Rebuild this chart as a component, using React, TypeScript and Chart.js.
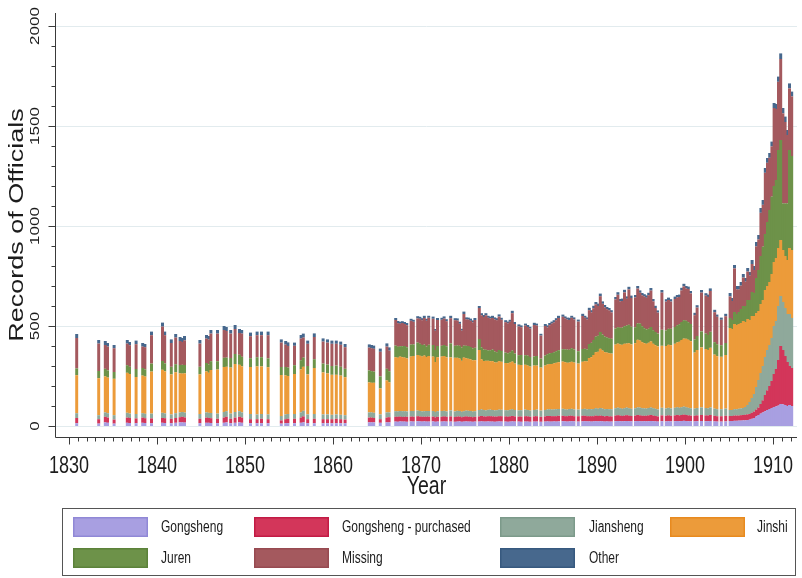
import React, { useEffect, useRef } from "react";
import { Chart, registerables } from "chart.js";

Chart.register(...registerables);

// Edition (quarter start, decimal year) of each "Jinshen lu" record
const periods = [
  1830.75, 1833.25, 1834, 1834.25, 1835, 1836.5, 1836.75, 1837.5, 1838.25, 1838.5,
  1839.25, 1840.5, 1840.75, 1841.5, 1842, 1842.5, 1842.75, 1843, 1844.75, 1845.5,
  1845.75, 1846, 1846.75, 1847.5, 1847.75, 1848.25, 1848.75, 1849.25, 1849.5, 1850.5,
  1851.25, 1851.75, 1852.5, 1854, 1854.5, 1854.75, 1855.5, 1856.25, 1856.5, 1857,
  1857.75, 1858.75, 1859.25, 1859.75, 1860.25, 1860.75, 1861.25, 1864, 1864.25, 1864.5,
  1865.25, 1866, 1866.25,
  1867, 1867.25, 1867.5, 1867.75, 1868, 1868.25, 1868.75, 1869, 1869.5, 1869.75,
  1870, 1870.25, 1870.5, 1870.75, 1871.25, 1871.5, 1871.75, 1872.25, 1872.5, 1872.75,
  1873.25, 1873.75, 1874, 1874.25, 1874.5, 1874.75, 1875, 1875.25, 1875.5, 1875.75, 1876,
  1876.5, 1876.75, 1877, 1877.25, 1877.5, 1877.75, 1878, 1878.25, 1878.5, 1878.75,
  1879, 1879.5, 1879.75, 1880, 1880.25, 1880.5, 1881, 1881.25, 1881.75, 1882,
  1882.25, 1882.75, 1883, 1883.5, 1884, 1884.25, 1884.5, 1884.75, 1885, 1885.25,
  1885.5, 1886, 1886.25, 1886.5, 1886.75, 1887, 1887.25, 1887.75, 1888.25, 1888.5, 1888.75,
  1889, 1889.25, 1889.5, 1889.75, 1890, 1890.25, 1890.5, 1890.75, 1891, 1891.25, 1891.5,
  1892, 1892.25, 1892.5, 1892.75, 1893, 1893.25, 1893.5, 1893.75, 1894.25, 1894.5, 1894.75,
  1895, 1895.25, 1895.5, 1895.75, 1896, 1896.25, 1896.5, 1896.75, 1897.25, 1897.75, 1898, 1898.25,
  1898.75, 1899, 1899.25, 1899.5, 1899.75, 1900, 1900.25, 1900.5,
  1901, 1901.25, 1901.75, 1902.25, 1902.5, 1902.75, 1903.25, 1903.5, 1904, 1904.5,
  1905, 1905.25, 1905.5, 1905.75, 1906, 1906.25, 1906.5, 1906.75, 1907, 1907.25, 1907.5, 1907.75,
  1908, 1908.25, 1908.5, 1908.75, 1909, 1909.25, 1909.5, 1909.75, 1910, 1910.25, 1910.5, 1910.75,
  1911, 1911.25, 1911.5, 1911.75, 1912,
];

const gongsheng = [
  14, 12, 18, 16, 12, 16, 15, 14, 16, 15, 14, 16, 15, 14, 16, 18, 18, 17, 14, 16,
  16, 15, 14, 16, 18, 14, 16, 18, 16, 14, 14, 14, 14, 12, 14, 14, 14, 16, 18, 14,
  14, 14, 14, 14, 14, 14, 14, 18, 18, 18, 16, 18, 18,
  22, 21, 23, 22, 22, 21, 23, 22, 24, 23, 22, 23, 22, 22, 23, 21, 22, 22, 23, 22,
  22, 21, 22, 23, 21, 22, 23, 22, 22, 21, 22,
  22, 23, 22, 22, 23, 22, 22, 21, 22, 23, 22, 22, 21, 22, 23, 22, 22, 21, 22, 22,
  21, 22, 22, 21, 22, 23, 22, 22, 23, 22, 23, 24, 23, 22, 23, 24, 23, 22, 23, 24, 23,
  23, 22, 23, 24, 23, 24, 23, 22, 23, 22, 22, 24, 25, 24, 23, 24, 25, 24, 23, 24, 25, 24,
  23, 24, 23, 24, 25, 24, 23, 22, 24, 23, 24, 23, 24, 25, 24, 25, 26, 25, 24, 24,
  23, 24, 25, 24, 24, 25, 23, 22, 22, 23,
  25, 25, 26, 26, 27, 27, 28, 28, 30, 32, 36, 40, 48, 55, 62, 68, 74, 80, 85, 90, 95, 98, 102, 110,
  108, 105, 100, 105, 100,
];

const purchased = [
  26, 22, 28, 26, 20, 26, 25, 24, 26, 24, 24, 24, 24, 22, 24, 26, 28, 26, 22, 26,
  24, 24, 22, 26, 28, 22, 26, 28, 26, 20, 20, 22, 20, 16, 20, 22, 22, 26, 30, 20,
  22, 20, 20, 20, 22, 20, 18, 24, 24, 22, 18, 24, 26,
  24, 25, 24, 23, 24, 25, 24, 24, 25, 24, 24, 23, 24, 25, 24, 22, 24, 24, 25, 24,
  26, 24, 25, 24, 23, 24, 25, 24, 24, 23, 24,
  26, 27, 26, 25, 26, 27, 26, 26, 25, 26, 27, 26, 25, 26, 27, 26, 25, 26, 27, 26,
  25, 26, 27, 25, 26, 27, 28, 27, 26, 27, 28, 27, 26, 27, 28, 27, 26, 27, 28, 27, 26,
  26, 27, 26, 28, 27, 28, 27, 26, 27, 26, 26, 28, 29, 28, 27, 28, 29, 28, 27, 28, 30, 29,
  28, 27, 28, 29, 30, 28, 27, 26, 29, 28, 29, 28, 29, 30, 29, 30, 31, 30, 29, 28,
  28, 29, 30, 29, 28, 30, 28, 27, 27, 28,
  25, 25, 26, 26, 25, 27, 27, 28, 28, 28, 30, 32, 34, 37, 48, 60, 81, 98, 115, 135, 165, 187, 228, 290,
  272, 245, 220, 195, 190,
];

const jiansheng = [
  24, 20, 22, 22, 22, 24, 22, 22, 22, 22, 24, 26, 24, 22, 24, 24, 24, 24, 24, 26,
  26, 26, 26, 28, 28, 26, 28, 28, 26, 26, 24, 24, 24, 22, 24, 24, 24, 26, 28, 24,
  24, 24, 24, 22, 22, 22, 22, 26, 26, 26, 24, 26, 24,
  28, 27, 28, 29, 28, 27, 28, 29, 28, 28, 27, 28, 29, 28, 28, 27, 28, 29, 28, 27,
  30, 28, 29, 28, 27, 28, 29, 30, 29, 28, 28,
  32, 33, 32, 31, 32, 33, 32, 31, 32, 33, 32, 31, 32, 33, 34, 32, 31, 32, 33, 32,
  31, 32, 33, 31, 32, 33, 34, 33, 34, 35, 34, 35, 34, 33, 34, 35, 34, 33, 34, 35, 34,
  36, 35, 36, 37, 36, 38, 37, 36, 35, 36, 36, 37, 38, 37, 36, 37, 38, 37, 36, 37, 38, 39,
  38, 37, 36, 37, 38, 37, 36, 35, 38, 37, 38, 37, 38, 39, 38, 39, 40, 39, 38, 37,
  36, 37, 38, 37, 36, 38, 36, 35, 35, 36,
  30, 30, 32, 32, 34, 34, 35, 39, 47, 60, 74, 88, 113, 138, 155, 172, 190, 202, 205, 215, 240, 240, 270, 250,
  240, 240, 240, 260, 250,
];

const jinshi = [
  190, 185, 180, 178, 182, 200, 198, 185, 188, 186, 210, 215, 210, 200, 205, 195, 192, 196, 198, 205,
  200, 215, 220, 225, 222, 230, 240, 232, 230, 235, 240, 238, 236, 205, 195, 190, 200, 215, 220, 200,
  230, 210, 205, 200, 198, 196, 190, 150, 148, 150, 130, 160, 150,
  270, 268, 272, 270, 268, 265, 272, 275, 278, 276, 274, 278, 270, 275, 272, 250, 270, 272, 274, 270,
  265, 268, 265, 262, 255, 268, 262, 260, 258, 256, 255,
  300, 250, 245, 248, 245, 242, 244, 240, 238, 242, 240, 236, 235, 236, 238, 232, 228, 226, 224, 222,
  220, 222, 220, 215, 222, 224, 226, 228, 230, 232, 234, 236, 236, 234, 232, 235, 234, 230, 236, 238, 240,
  255, 260, 270, 280, 285, 296, 290, 285, 282, 280, 278, 318, 320, 318, 320, 322, 320, 325, 322, 325, 338, 335,
  330, 326, 324, 326, 330, 322, 318, 315, 310, 312, 315, 316, 320, 324, 330, 336, 340, 342, 340, 335,
  280, 290, 300, 295, 292, 298, 270, 265, 262, 268,
  410, 405, 426, 421, 424, 427, 435, 425, 430, 410, 410, 390, 370, 345, 345, 330, 335, 320, 315, 320, 320, 315, 290, 280,
  260, 260, 270, 330, 340,
];

const juren = [
  34, 36, 38, 36, 34, 38, 36, 40, 38, 36, 40, 44, 40, 38, 40, 42, 44, 42, 38, 42,
  42, 44, 42, 46, 46, 48, 50, 50, 48, 44, 46, 46, 44, 40, 42, 42, 44, 46, 46, 42,
  44, 44, 44, 44, 46, 44, 42, 60, 58, 56, 60, 58, 56,
  58, 55, 52, 55, 58, 56, 60, 58, 62, 60, 58, 55, 52, 56, 58, 60, 56, 54, 55, 56,
  70, 60, 62, 64, 66, 60, 62, 64, 62, 60, 62,
  55, 60, 58, 55, 52, 55, 58, 55, 52, 56, 54, 52, 50, 52, 55, 50, 48, 50, 48, 50,
  48, 46, 48, 45, 50, 52, 54, 55, 56, 58, 60, 62, 64, 66, 64, 68, 66, 62, 64, 62, 60,
  70, 72, 75, 78, 80, 84, 80, 78, 76, 75, 74, 80, 82, 84, 86, 88, 90, 92, 88, 80, 82, 85,
  80, 75, 72, 70, 72, 68, 66, 64, 80, 78, 80, 82, 84, 86, 88, 90, 92, 90, 88, 86,
  65, 70, 80, 78, 75, 80, 62, 60, 58, 60,
  50, 45, 60, 55, 60, 70, 75, 80, 95, 100, 120, 115, 175, 205, 240, 267, 280, 320, 360, 387, 380, 390, 490, 500,
  233, 263, 283, 490, 470,
];

const missing = [
  152, 137, 119, 119, 119, 108, 108, 124, 107, 111, 142, 172, 141, 119, 133, 120, 114, 123, 116, 122,
  124, 138, 138, 139, 133, 122, 125, 109, 116, 110, 110, 110, 116, 122, 112, 108, 97, 108, 100, 111,
  111, 110, 110, 111, 109, 110, 108, 114, 115, 114, 123, 111, 103,
  128, 118, 112, 116, 110, 110, 119, 113, 121, 125, 124, 133, 129, 135, 131, 96, 130, 130, 132, 125,
  126, 128, 124, 110, 85, 158, 132, 132, 131, 130, 139,
  155, 160, 162, 172, 163, 158, 158, 160, 160, 167, 156, 152, 150, 152, 187, 148, 144, 139, 148, 143,
  142, 157, 152, 115, 148, 134, 140, 147, 149, 155, 161, 162, 155, 150, 149, 152, 150, 148, 165, 155, 150,
  169, 152, 159, 161, 149, 179, 154, 146, 141, 139, 132, 146, 162, 132, 133, 169, 134, 177, 144, 149, 174, 154,
  154, 158, 158, 168, 182, 144, 120, 105, 186, 144, 144, 136, 140, 139, 136, 158, 169, 162, 166, 153,
  122, 142, 194, 189, 190, 204, 150, 137, 127, 134,
  108, 95, 218, 123, 113, 117, 142, 122, 142, 122, 140, 115, 158, 153, 216, 209, 306, 296, 261, 251, 390, 355, 341, 405,
  450, 407, 342, 308, 298,
];

const other = [
  20, 18, 20, 18, 16, 18, 16, 18, 18, 16, 18, 20, 18, 18, 18, 20, 20, 22, 18, 18,
  18, 18, 18, 20, 20, 18, 20, 20, 18, 18, 18, 18, 18, 16, 18, 18, 16, 18, 20, 16,
  18, 16, 16, 16, 16, 16, 16, 16, 16, 16, 16, 16, 16,
  10, 11, 10, 9, 10, 11, 10, 10, 11, 10, 10, 11, 10, 10, 11, 9, 10, 10, 11, 10,
  12, 10, 11, 10, 9, 12, 10, 10, 11, 10, 10,
  10, 11, 10, 11, 10, 10, 11, 10, 10, 11, 10, 10, 9, 10, 12, 10, 10, 9, 10, 10,
  9, 11, 10, 9, 10, 10, 11, 10, 11, 10, 11, 11, 10, 10, 11, 10, 10, 10, 11, 10, 10,
  12, 11, 12, 12, 12, 13, 12, 12, 11, 12, 11, 12, 13, 12, 12, 13, 12, 13, 12, 12, 13, 12,
  12, 12, 12, 12, 13, 12, 11, 11, 13, 12, 12, 12, 12, 12, 12, 13, 13, 12, 12, 12,
  12, 12, 13, 12, 12, 13, 12, 11, 11, 12,
  17, 15, 17, 17, 17, 18, 18, 18, 18, 18, 20, 20, 22, 22, 24, 24, 24, 24, 24, 24, 25, 25, 26, 28,
  27, 27, 25, 25, 24,
];

const seriesLabels = ["Gongsheng", "Gongsheng - purchased", "Jiansheng", "Jinshi", "Juren", "Missing", "Other"];
const seriesValues = [gongsheng, purchased, jiansheng, jinshi, juren, missing, other];
const fills = ["#a89fe1", "#d3365a", "#8fa99b", "#ec9b3a", "#6d9249", "#a4595e", "#47688d"];
const edges = ["#9088d6", "#c21b45", "#7c9a8a", "#e88a1f", "#5c823a", "#974a51", "#37597f"];

const yMajorTicks = [0, 500, 1000, 1500, 2000];
const xMajorTicks = [1830, 1840, 1850, 1860, 1870, 1880, 1890, 1900, 1910];

const FONT = '"Liberation Sans", Arial, Helvetica, sans-serif';
const SX = 0.75;

function drawText(
  ctx: CanvasRenderingContext2D,
  s: string,
  x: number,
  y: number,
  size: number,
  rot = 0,
  align: CanvasTextAlign = "center",
  sx = SX
) {
  ctx.save();
  ctx.translate(x, y);
  ctx.scale(sx, 1);
  if (rot) ctx.rotate(rot);
  ctx.font = `${size}px ${FONT}`;
  ctx.textAlign = align;
  ctx.textBaseline = "middle";
  ctx.fillStyle = "#1c1c1c";
  ctx.fillText(s, 0, 0);
  ctx.restore();
}

const decor = {
  id: "decor",
  beforeDatasetsDraw(chart: any) {
    const { ctx, chartArea, scales } = chart;
    ctx.save();
    ctx.strokeStyle = "#e2ebee";
    ctx.lineWidth = 1;
    for (const v of yMajorTicks) {
      const y = Math.round(scales.y.getPixelForValue(v)) + 0.5;
      ctx.beginPath();
      ctx.moveTo(chartArea.left, y);
      ctx.lineTo(chartArea.right, y);
      ctx.stroke();
    }
    ctx.restore();
  },
  afterDraw(chart: any) {
    const { ctx, chartArea, scales } = chart;
    const L = chartArea.left;
    const B = chartArea.bottom;
    ctx.save();
    ctx.strokeStyle = "#3a3a3a";
    ctx.lineWidth = 1;
    ctx.beginPath();
    ctx.moveTo(L - 0.5, chartArea.top);
    ctx.lineTo(L - 0.5, B + 0.5);
    ctx.lineTo(chartArea.right, B + 0.5);
    ctx.stroke();
    for (let v = 0; v <= 2000; v += 100) {
      const y = Math.round(scales.y.getPixelForValue(v)) + 0.5;
      const len = v % 500 === 0 ? 7 : 4;
      ctx.beginPath();
      ctx.moveTo(L - 0.5 - len, y);
      ctx.lineTo(L - 0.5, y);
      ctx.stroke();
    }
    for (const v of yMajorTicks) {
      const y = scales.y.getPixelForValue(v);
      drawText(ctx, String(v), 35, y, 17, -Math.PI / 2);
    }
    for (let yr = 1830; yr <= 1912; yr++) {
      const x = Math.round(scales.x.getPixelForValue(yr)) + 0.5;
      const len = yr % 10 === 0 ? 7 : 4;
      ctx.beginPath();
      ctx.moveTo(x, B + 0.5);
      ctx.lineTo(x, B + 0.5 + len);
      ctx.stroke();
    }
    for (const yr of xMajorTicks) {
      const x = scales.x.getPixelForValue(yr);
      drawText(ctx, String(yr), x, 466, 24);
    }
    drawText(ctx, "Year", (chartArea.left + chartArea.right) / 2, 487, 26);
    drawText(ctx, "Records of Officials", 17, (chartArea.top + chartArea.bottom) / 2, 27, -Math.PI / 2);
    // legend
    ctx.strokeStyle = "#555";
    ctx.strokeRect(62.5, 508.5, 733, 67);
    const swX = [73, 254, 500, 670];
    const txX = [161, 342, 589, 757];
    const rowY = [527, 558];
    seriesLabels.forEach((lab, i) => {
      const col = i % 4;
      const row = Math.floor(i / 4);
      const cy = rowY[row];
      ctx.fillStyle = fills[i];
      ctx.fillRect(swX[col], cy - 10, 75, 20);
      ctx.strokeStyle = edges[i];
      ctx.lineWidth = 1.5;
      ctx.strokeRect(swX[col] + 0.75, cy - 9.25, 73.5, 18.5);
      drawText(ctx, lab, txX[col], cy + 1, 16, 0, "left");
    });
    ctx.restore();
  },
};

const X_MIN = 1828.523;
const X_MAX = 1912.727;

export default function App() {
  const ref = useRef<HTMLCanvasElement>(null);
  useEffect(() => {
    const canvas = ref.current;
    if (!canvas) return;
    const datasets = seriesLabels.map((label, k) => ({
      label,
      data: periods.map((p, i) => ({ x: p + 0.125, y: seriesValues[k][i] })),
      backgroundColor: fills[k],
      borderWidth: 0,
      barPercentage: 1.35,
      categoryPercentage: 1,
    }));
    const chart = new Chart(canvas, {
      type: "bar",
      data: { datasets } as any,
      options: {
        responsive: false,
        animation: false,
        devicePixelRatio: 1,
        layout: { padding: { left: 56, right: 5, top: 13, bottom: 141 } },
        plugins: { legend: { display: false }, tooltip: { enabled: false } },
        scales: {
          x: { type: "linear", stacked: true, min: X_MIN, max: X_MAX, offset: false, display: false },
          y: { stacked: true, min: -55, max: 2065, display: false },
        },
      } as any,
      plugins: [decor],
    });
    return () => chart.destroy();
  }, []);
  return (
    <canvas
      ref={ref}
      width={802}
      height={578}
      style={{ position: "fixed", left: 0, top: 0, width: 802, height: 578 }}
    />
  );
}
